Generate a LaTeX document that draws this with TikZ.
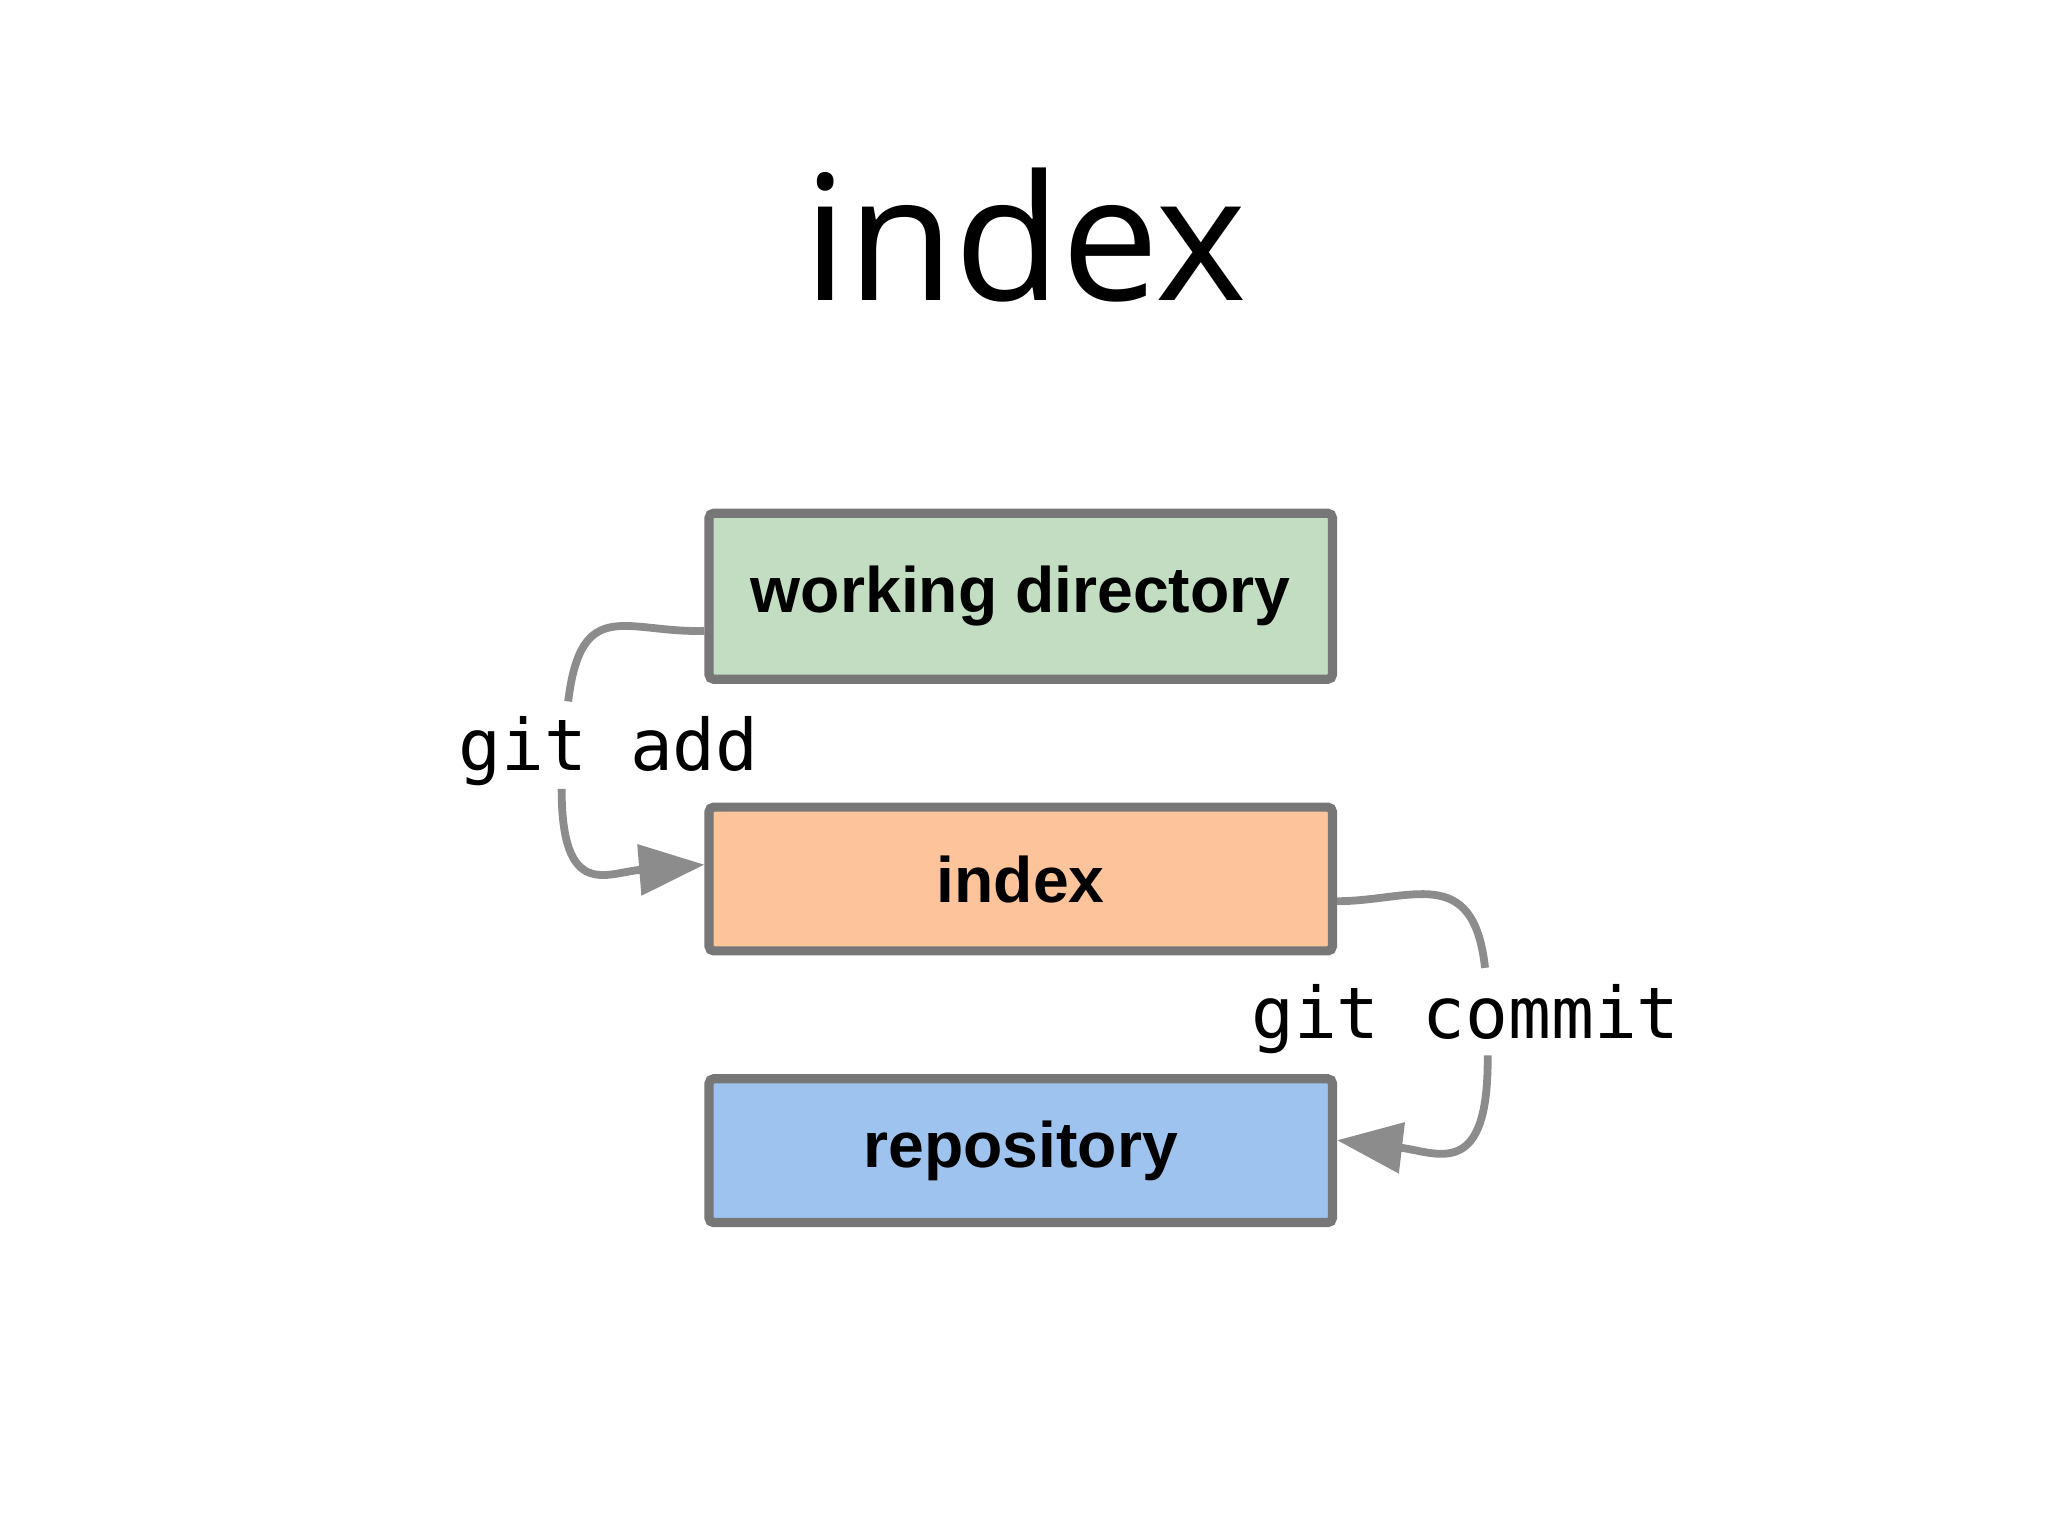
\documentclass[tikz,border=0pt]{standalone}
\usepackage{fontspec}
\setmainfont{Open Sans}
\newfontfamily\boxfont{Liberation Sans}
\newfontfamily\codefont{DejaVu Sans Mono}
\usetikzlibrary{arrows.meta}
\definecolor{edge}{HTML}{777777}
\definecolor{arr}{HTML}{8C8C8C}
\definecolor{wdc}{HTML}{C2DDC1}
\definecolor{ixc}{HTML}{FDC49C}
\definecolor{rpc}{HTML}{9EC3EE}
\tikzset{
 box/.style={draw=edge,line width=2pt,rounded corners=1pt,minimum width=4.77cm,inner sep=0pt,font=\boxfont\bfseries\fontsize{14}{16}\selectfont},
 conn/.style={draw=arr,line width=1.7pt},
 code/.style={font=\codefont\fontsize{15.5}{18}\selectfont}
}
\begin{document}
\begin{tikzpicture}[x=0.01cm,y=-0.01cm]
\useasboundingbox (0,0) rectangle (1568,1176);
\node[font=\fontsize{38}{44}\selectfont] (title) at (785,180) {index};
\node[box,fill=wdc,minimum height=1.27cm] (wd) at (781.5,456.5) {working directory};
\node[box,fill=ixc,minimum height=1.10cm] (ix) at (781.5,673) {index};
\node[box,fill=rpc,minimum height=1.10cm] (rp) at (781.5,881) {repository};
\node[code] (add) at (466,575) {git add};
\node[code] (commit) at (1122,780) {git commit};
\coordinate (a1) at (435,537);
\coordinate (a2) at (430,604);
\coordinate (c1) at (1137,741);
\coordinate (c2) at (1139,808);
\draw[conn] (wd.west |- 0,483) .. controls (480,485) and (445,455) .. (a1);
\draw[conn,-{Triangle[length=0.5cm,width=0.38cm]}] (a2) .. controls (430,690) and (465,668) .. (ix.west |- 0,662);
\draw[conn] (ix.east |- 0,690) .. controls (1080,690) and (1128,660) .. (c1);
\draw[conn,-{Triangle[length=0.5cm,width=0.38cm]}] (c2) .. controls (1140,905) and (1100,882) .. (rp.east |- 0,873);
\end{tikzpicture}
\end{document}
